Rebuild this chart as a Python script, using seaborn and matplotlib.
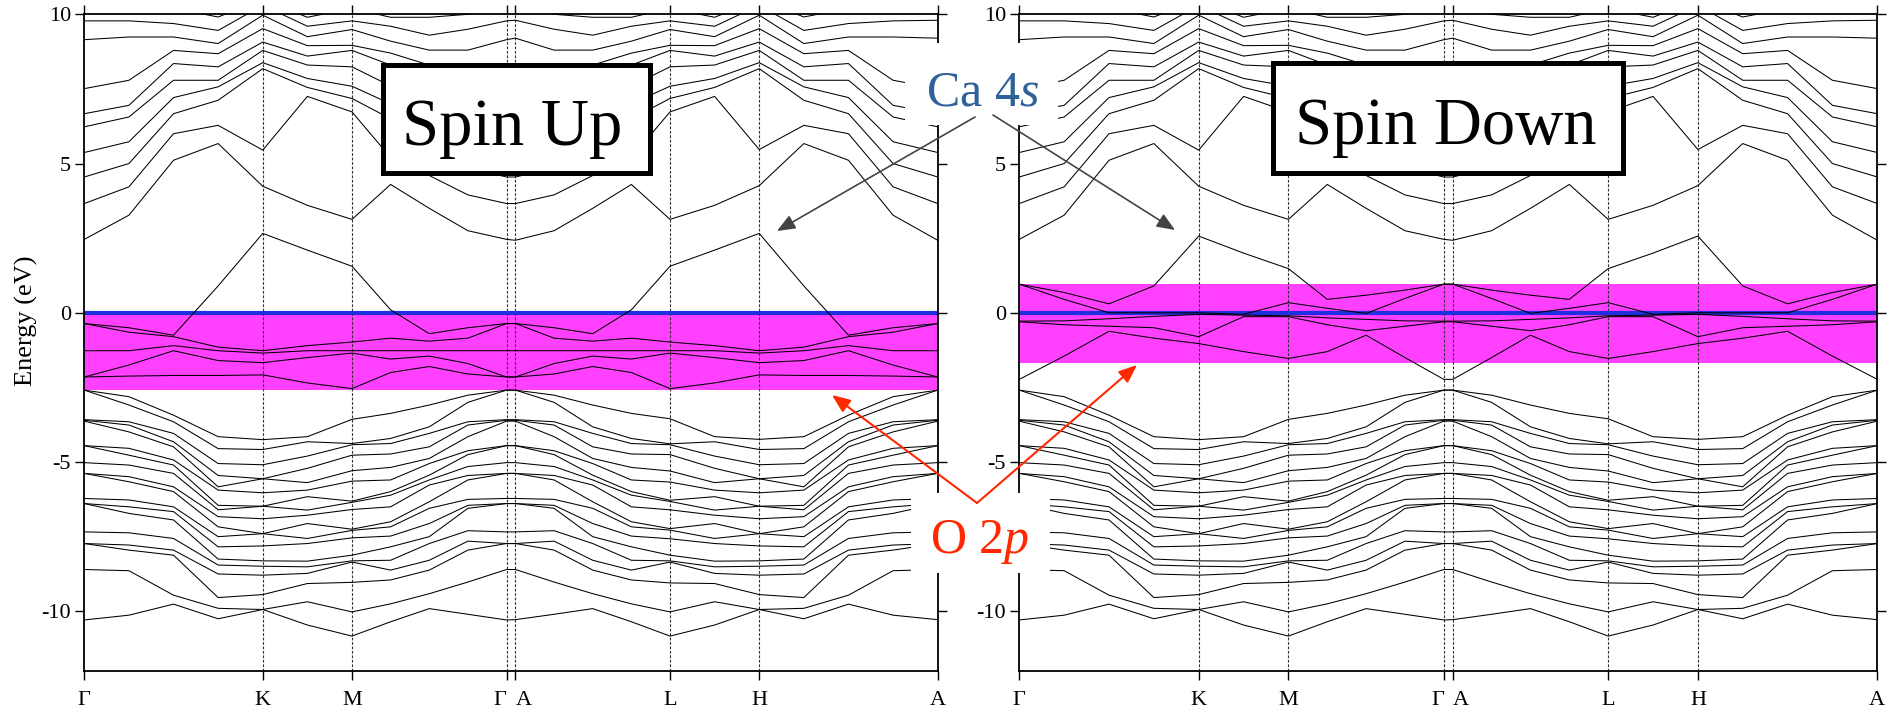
import numpy as np
import pandas as pd
import matplotlib
matplotlib.use("Agg")
import matplotlib.pyplot as plt
import seaborn as sns
from matplotlib.patches import Rectangle, FancyArrowPatch

sns.set_theme(style="white")
plt.rcParams["font.family"] = ["Liberation Serif", "DejaVu Serif"]
plt.rcParams["mathtext.fontset"] = "custom"
plt.rcParams["mathtext.rm"] = "Liberation Serif"
plt.rcParams["mathtext.it"] = "Liberation Serif:italic"

# ---------------- data ----------------
hs_labels = ["Γ", "K", "M", "Γ", "A", "L", "H", "A"]
segment_lengths = [1.0, 0.5, 0.866, 0.05, 0.866, 0.5, 1.0]
segment_fractions = [[0.25, 0.5, 0.75], [0.5], [0.25, 0.5, 0.75], [],
                     [0.25, 0.5, 0.75], [0.5], [0.25, 0.5, 0.75]]
energy_ticks = [-10, -5, 0, 5, 10]
energy_tick_labels = ["-10", "-5", "0", "5", "10"]

# deep valence bands (same in both spins), rows = k samples along path
valence_bands = [
    [-10.29, -8.60, -7.73, -7.73, -7.34, -6.39, -6.39, -6.22, -5.38, -5.38, -5.02, -4.45, -4.45, -3.63, -3.60, -3.58, -2.59, -2.59],
    [-10.13, -8.64, -7.95, -7.78, -7.37, -6.72, -6.50, -6.27, -5.66, -5.49, -5.10, -4.77, -4.54, -3.99, -3.76, -3.65, -3.09, -2.81],
    [-9.76, -9.46, -8.12, -7.95, -7.56, -6.94, -6.66, -6.50, -5.99, -5.83, -5.38, -5.10, -4.93, -4.49, -4.32, -4.04, -3.65, -3.43],
    [-10.25, -9.90, -9.54, -8.75, -8.45, -8.25, -7.84, -7.50, -7.17, -6.83, -6.60, -6.45, -5.94, -5.83, -5.45, -5.05, -4.55, -4.15],
    [-9.94, -9.94, -9.44, -8.79, -8.49, -8.31, -7.81, -7.40, -7.40, -6.90, -6.48, -6.48, -6.03, -5.56, -5.56, -5.09, -4.58, -4.25],
    [-10.46, -9.68, -9.07, -8.73, -8.51, -8.32, -7.73, -7.56, -7.06, -6.78, -6.61, -6.16, -5.94, -5.69, -5.21, -4.80, -4.32, -4.15],
    [-10.83, -10.02, -9.03, -8.35, -8.31, -8.12, -7.54, -7.29, -7.25, -6.59, -6.35, -6.31, -5.64, -5.29, -4.77, -4.42, -4.38, -3.57],
    [-10.35, -9.75, -8.95, -8.62, -8.29, -7.84, -7.48, -7.17, -7.00, -6.50, -6.11, -5.99, -5.60, -5.18, -4.73, -4.38, -4.21, -3.37],
    [-9.91, -9.41, -8.62, -8.29, -7.73, -7.50, -7.06, -6.55, -6.33, -5.77, -5.60, -5.44, -5.05, -4.88, -4.49, -4.04, -3.82, -3.09],
    [-10.10, -9.02, -7.95, -7.65, -7.30, -6.55, -6.45, -6.25, -5.60, -5.45, -5.15, -4.75, -4.62, -4.15, -3.76, -3.65, -3.00, -2.76],
    [-10.29, -8.60, -7.73, -7.73, -7.34, -6.39, -6.39, -6.22, -5.38, -5.38, -5.02, -4.45, -4.45, -3.63, -3.60, -3.58, -2.59, -2.59],
    [-10.28, -8.60, -7.73, -7.73, -7.34, -6.39, -6.39, -6.22, -5.38, -5.38, -5.02, -4.45, -4.45, -3.63, -3.60, -3.58, -2.59, -2.59],
    [-10.10, -9.02, -7.95, -7.65, -7.30, -6.55, -6.45, -6.25, -5.60, -5.45, -5.15, -4.75, -4.62, -4.15, -3.76, -3.65, -3.00, -2.76],
    [-9.91, -9.41, -8.62, -8.29, -7.73, -7.50, -7.06, -6.55, -6.33, -5.77, -5.60, -5.44, -5.05, -4.88, -4.49, -4.04, -3.82, -3.09],
    [-10.35, -9.75, -8.95, -8.62, -8.29, -7.84, -7.48, -7.17, -7.00, -6.50, -6.11, -5.99, -5.60, -5.18, -4.73, -4.38, -4.21, -3.37],
    [-10.83, -10.02, -9.05, -8.35, -8.31, -8.12, -7.57, -7.28, -7.23, -6.60, -6.32, -6.28, -5.67, -5.30, -4.75, -4.42, -4.39, -3.55],
    [-10.46, -9.68, -9.07, -8.73, -8.51, -8.32, -7.73, -7.56, -7.06, -6.78, -6.61, -6.16, -5.94, -5.69, -5.21, -4.80, -4.32, -4.15],
    [-9.94, -9.94, -9.44, -8.79, -8.49, -8.31, -7.81, -7.40, -7.40, -6.90, -6.48, -6.48, -6.03, -5.56, -5.56, -5.09, -4.58, -4.24],
    [-10.25, -9.90, -9.54, -8.75, -8.45, -8.25, -7.84, -7.50, -7.17, -6.83, -6.60, -6.45, -5.94, -5.83, -5.45, -5.05, -4.55, -4.15],
    [-9.76, -9.46, -8.12, -7.95, -7.56, -6.94, -6.66, -6.50, -5.99, -5.83, -5.38, -5.10, -4.93, -4.49, -4.32, -4.04, -3.65, -3.43],
    [-10.13, -8.64, -7.95, -7.78, -7.37, -6.72, -6.50, -6.27, -5.66, -5.49, -5.10, -4.77, -4.54, -3.99, -3.76, -3.65, -3.09, -2.81],
    [-10.28, -8.60, -7.73, -7.73, -7.34, -6.39, -6.39, -6.22, -5.38, -5.38, -5.02, -4.45, -4.45, -3.63, -3.60, -3.58, -2.59, -2.59],
]

# conduction bands (same in both spins)
conduction_bands = [
    [2.46, 3.66, 4.55, 5.37, 6.23, 6.67, 7.51, 9.15, 9.78, 10.30],
    [3.27, 4.22, 5.00, 5.73, 6.56, 6.95, 7.79, 9.24, 9.78, 10.20],
    [5.11, 6.00, 6.67, 7.21, 7.79, 8.35, 8.79, 9.24, 9.69, 10.20],
    [5.67, 6.28, 7.12, 7.57, 7.79, 8.24, 8.68, 9.02, 9.46, 9.91],
    [4.24, 5.45, 8.18, 8.38, 8.79, 9.07, 9.52, 9.97, 10.30, 10.50],
    [3.60, 7.25, 7.55, 7.85, 8.30, 8.60, 8.95, 9.25, 9.60, 9.90],
    [3.13, 6.73, 7.18, 7.59, 8.24, 8.79, 8.96, 9.49, 9.78, 10.20],
    [4.30, 5.20, 6.50, 7.00, 7.60, 8.30, 8.70, 9.10, 9.60, 9.90],
    [3.50, 4.60, 5.60, 6.30, 7.00, 7.60, 8.30, 8.80, 9.30, 9.90],
    [2.75, 3.95, 4.85, 5.65, 6.45, 6.90, 7.80, 8.80, 9.50, 10.00],
    [2.46, 3.66, 4.55, 5.37, 6.23, 6.67, 7.51, 9.15, 9.78, 10.30],
    [2.43, 3.66, 4.55, 5.37, 6.23, 6.67, 7.51, 9.20, 9.80, 10.30],
    [2.75, 3.95, 4.85, 5.65, 6.45, 6.90, 7.80, 8.80, 9.50, 10.00],
    [3.50, 4.60, 5.60, 6.30, 7.00, 7.60, 8.30, 8.80, 9.30, 9.90],
    [4.30, 5.20, 6.50, 7.00, 7.60, 8.30, 8.70, 9.10, 9.60, 9.90],
    [3.13, 6.73, 7.18, 7.59, 8.24, 8.79, 8.96, 9.49, 9.78, 10.20],
    [3.60, 7.25, 7.55, 7.85, 8.30, 8.60, 8.95, 9.25, 9.60, 9.90],
    [4.26, 5.47, 8.18, 8.38, 8.79, 9.07, 9.52, 9.97, 10.30, 10.50],
    [5.67, 6.28, 7.12, 7.57, 7.79, 8.24, 8.68, 9.02, 9.46, 9.91],
    [5.11, 6.00, 6.67, 7.21, 7.79, 8.35, 8.79, 9.24, 9.69, 10.20],
    [3.27, 4.22, 5.00, 5.73, 6.56, 6.95, 7.79, 9.24, 9.78, 10.20],
    [2.43, 3.66, 4.55, 5.37, 6.23, 6.67, 7.51, 9.20, 9.80, 10.30],
]

# O 2p + Ca 4s bands near the Fermi level, spin up
near_fermi_up = [
    [-2.15, -2.15, -1.27, -0.36, -0.36],
    [-2.12, -1.75, -1.27, -0.65, -0.50],
    [-2.10, -1.27, -1.10, -0.80, -0.75],
    [-2.10, -1.60, -1.27, -1.15, 0.90],
    [-2.08, -1.67, -1.35, -1.27, 2.66],
    [-2.35, -1.50, -1.27, -1.10, 2.10],
    [-2.54, -1.35, -1.27, -0.98, 1.56],
    [-2.00, -1.55, -1.27, -0.85, 0.10],
    [-1.80, -1.45, -1.27, -0.95, -0.70],
    [-2.05, -1.70, -1.27, -0.85, -0.50],
    [-2.15, -2.15, -1.27, -0.36, -0.36],
    [-2.15, -2.15, -1.27, -0.36, -0.36],
    [-2.05, -1.70, -1.27, -0.85, -0.50],
    [-1.80, -1.45, -1.27, -0.95, -0.70],
    [-2.00, -1.55, -1.27, -0.85, 0.10],
    [-2.54, -1.35, -1.27, -0.98, 1.56],
    [-2.35, -1.50, -1.27, -1.10, 2.10],
    [-2.08, -1.67, -1.35, -1.27, 2.66],
    [-2.10, -1.60, -1.27, -1.15, 0.90],
    [-2.10, -1.27, -1.10, -0.80, -0.75],
    [-2.12, -1.75, -1.27, -0.65, -0.50],
    [-2.15, -2.15, -1.27, -0.36, -0.36],
]

# O 2p + Ca 4s bands near the Fermi level, spin down
near_fermi_down = [
    [-2.23, -0.30, -0.28, 0.96, 0.96],
    [-1.45, -0.40, -0.27, 0.45, 0.68],
    [-0.62, -0.45, -0.20, 0.00, 0.30],
    [-0.85, -0.50, -0.12, 0.00, 0.90],
    [-1.03, -0.80, -0.05, 0.00, 2.57],
    [-1.30, -0.13, -0.08, -0.05, 2.00],
    [-1.53, -0.13, -0.10, 0.34, 1.48],
    [-1.30, -0.40, -0.17, 0.15, 0.45],
    [-0.75, -0.60, -0.22, -0.02, 0.59],
    [-1.50, -0.45, -0.27, 0.48, 0.76],
    [-2.23, -0.30, -0.28, 0.96, 0.96],
    [-2.23, -0.30, -0.28, 0.96, 0.96],
    [-1.50, -0.45, -0.27, 0.48, 0.76],
    [-0.75, -0.60, -0.22, -0.02, 0.59],
    [-1.30, -0.40, -0.17, 0.15, 0.45],
    [-1.53, -0.13, -0.10, 0.34, 1.48],
    [-1.30, -0.13, -0.08, -0.05, 2.00],
    [-1.03, -0.80, -0.05, 0.00, 2.57],
    [-0.85, -0.50, -0.12, 0.00, 0.90],
    [-0.62, -0.45, -0.20, 0.00, 0.30],
    [-1.45, -0.40, -0.27, 0.45, 0.68],
    [-2.23, -0.30, -0.28, 0.96, 0.96],
]

o2p_window_up = (-2.57, 0.0)
o2p_window_down = (-1.67, 0.98)
fermi_level = 0.0

# ---------------- build k path ----------------
hs_k = np.concatenate([[0.0], np.cumsum(segment_lengths)])
sample_k = []
for i, fr in enumerate(segment_fractions):
    sample_k.append(hs_k[i])
    sample_k += [hs_k[i] + f * segment_lengths[i] for f in fr]
sample_k.append(hs_k[-1])
sample_k = np.array(sample_k)


def band_frame(groups):
    recs = []
    for gname, rows in groups:
        arr = np.asarray(rows, dtype=float)
        for j in range(arr.shape[1]):
            for i in range(arr.shape[0]):
                recs.append((sample_k[i], arr[i, j], f"{gname}{j}"))
    return pd.DataFrame(recs, columns=["k", "E", "band"])


df_up = band_frame([("v", valence_bands), ("c", conduction_bands), ("n", near_fermi_up)])
df_down = band_frame([("v", valence_bands), ("c", conduction_bands), ("n", near_fermi_down)])

# ---------------- figure ----------------
W, H = 1897, 716
fig = plt.figure(figsize=(W / 100, H / 100), dpi=100)
fig.patch.set_facecolor("white")
ax_bottom, ax_top = 671, 14.3
axL = fig.add_axes([84.3 / W, (H - ax_bottom) / H, (937.7 - 84.3) / W, (ax_bottom - ax_top) / H])
axR = fig.add_axes([1019.3 / W, (H - ax_bottom) / H, (1877.3 - 1019.3) / W, (ax_bottom - ax_top) / H])

for ax, df, win in [(axL, df_up, o2p_window_up), (axR, df_down, o2p_window_down)]:
    ax.set_facecolor("white")
    ax.axhspan(win[0], win[1], color="#ff40ff", lw=0, zorder=0)
    for k in hs_k[1:-1]:
        ax.axvline(k, color="#333333", lw=0.8, ls=(0, (2.5, 1.5)), zorder=1)
    ax.axhline(fermi_level, color="#1f2fe0", lw=3.0, zorder=1.5)
    sns.lineplot(data=df, x="k", y="E", units="band", estimator=None,
                 color="black", linewidth=0.75, ax=ax, legend=False, zorder=2)
    ax.set_xlim(hs_k[0], hs_k[-1])
    ax.set_ylim(-12, 10)
    ax.set_yticks(energy_ticks)
    ax.set_yticklabels(energy_tick_labels)
    ax.set_xticks(hs_k)
    ax.set_xticklabels(hs_labels)
    xl = ax.get_xticklabels()
    xl[3].set_ha("right")
    xl[4].set_ha("left")
    ax.set_xlabel("")
    ax.set_ylabel("")
    ax.tick_params(axis="both", direction="out", length=6.5, width=1.0,
                   colors="black", labelsize=16, left=True, right=True,
                   top=True, bottom=True)
    ax.tick_params(axis="x", pad=8)
    ax.tick_params(axis="y", pad=3)
    for s in ax.spines.values():
        s.set_color("black")
        s.set_linewidth(1.3)
    ax.grid(False)

axL.set_ylabel("Energy (eV)", fontsize=19, color="black")
axL.yaxis.set_label_coords(-0.054, 0.533)

# ---------------- overlay annotations (figure pixels) ----------------
ov = fig.add_axes([0, 0, 1, 1], zorder=10)
ov.set_xlim(0, W)
ov.set_ylim(H, 0)
ov.axis("off")
ov.patch.set_alpha(0)

ov.add_patch(Rectangle((383, 65), 267, 108, facecolor="white", edgecolor="black", lw=3.6))
ov.text(512, 145, "Spin Up", fontsize=48, ha="center", va="baseline", color="black")
ov.add_patch(Rectangle((1273, 63), 350, 110, facecolor="white", edgecolor="black", lw=3.6))
ov.text(1446, 144, "Spin Down", fontsize=48, ha="center", va="baseline", color="black")

ov.add_patch(Rectangle((905, 43), 153, 82, facecolor="white", edgecolor="none"))
ov.text(982, 105, "Ca 4$\\mathit{s}$", fontsize=36, ha="center", va="baseline", color="#2f6299")
ov.add_patch(Rectangle((911, 493), 139, 80, facecolor="white", edgecolor="none"))
ov.text(980, 553, "O 2$\\mathit{p}$", fontsize=36, ha="center", va="baseline", color="#ff2800")

astyle = "-|>,head_length=1.1,head_width=0.45"
for start, end in [((975, 117), (777, 231)), ((993, 115), (1175, 230))]:
    ov.add_patch(FancyArrowPatch(start, end, arrowstyle=astyle, mutation_scale=10,
                                 color="#444444", lw=1.2, shrinkA=0, shrinkB=0))
for start, end in [((977, 503), (832, 395)), ((977, 503), (1137, 365))]:
    ov.add_patch(FancyArrowPatch(start, end, arrowstyle=astyle, mutation_scale=10,
                                 color="#ff2800", lw=1.5, shrinkA=0, shrinkB=0))

fig.savefig("out.png", dpi=100, facecolor="white")
